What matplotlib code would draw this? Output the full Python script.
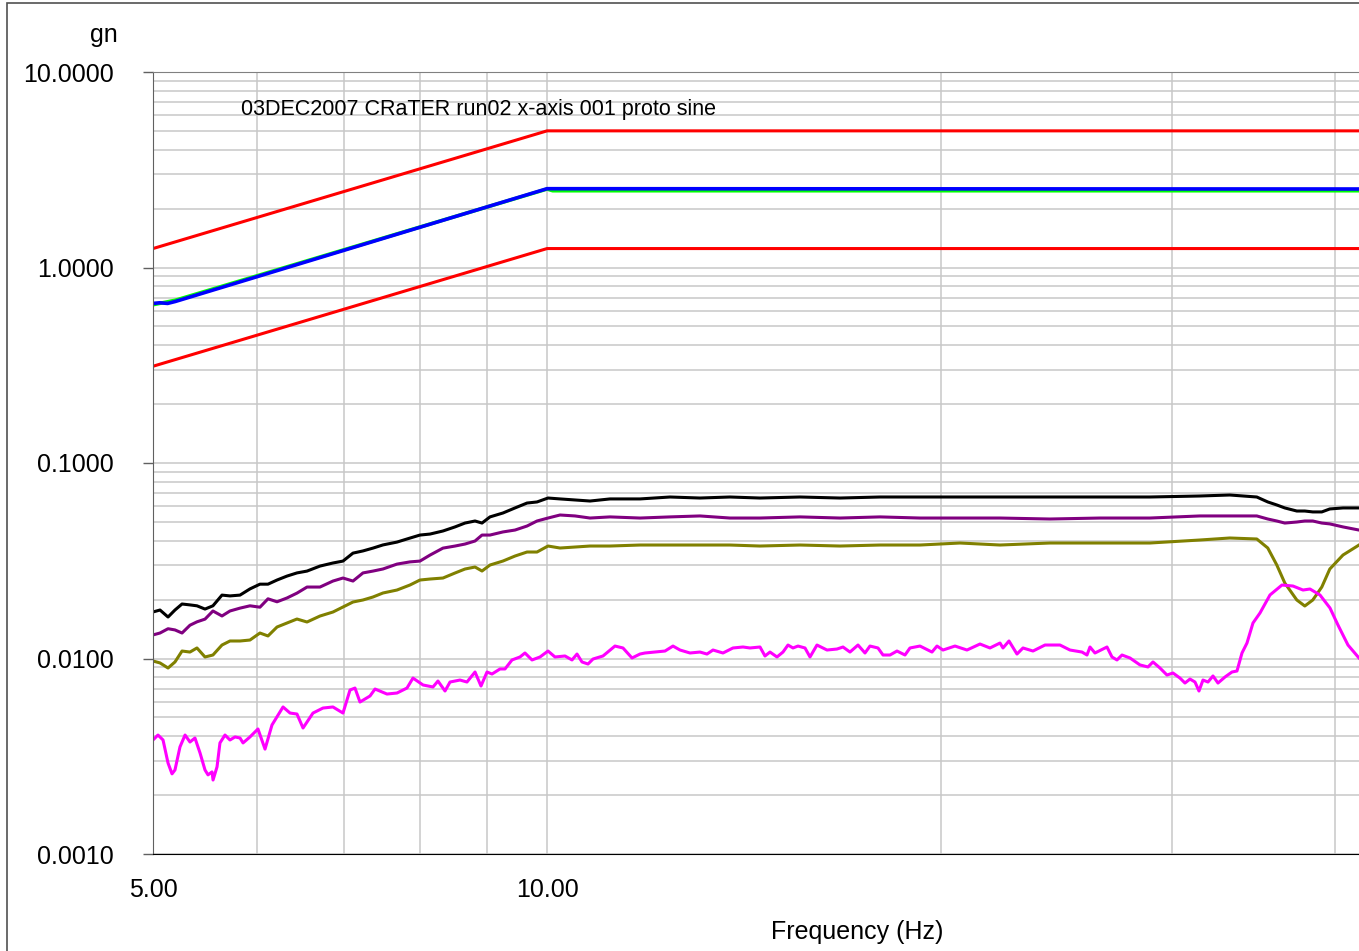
import matplotlib
matplotlib.use("Agg")
import matplotlib.pyplot as plt
from matplotlib.patches import Rectangle
from matplotlib.ticker import FixedLocator, NullFormatter

plt.rcParams['font.family'] = ['Liberation Sans', 'DejaVu Sans']

# --- data ---

# abort limits and reference profile
freq_ref = [5.0, 10.0, 50.0]
upper_abort = [1.25, 5.0, 5.0]
lower_abort = [0.3125, 1.25, 1.25]

# control (blue) and reference (green) traces
freq_ctrl = [5.0, 5.06, 5.13, 5.2, 10.0, 50.0]
control = [0.655, 0.66, 0.655, 0.67, 2.53, 2.52]
freq_green = [5.0, 5.2, 10.0, 10.1, 50.0]
green_ref = [0.645, 0.68, 2.52, 2.47, 2.47]

# response channels
freq_acc = [5.000, 5.062, 5.134, 5.197, 5.262, 5.336, 5.402, 5.479, 5.556, 5.645,
            5.725, 5.827, 5.930, 6.035, 6.121, 6.219, 6.329, 6.441, 6.556, 6.707,
            6.862, 6.984, 7.108, 7.234, 7.362, 7.493, 7.680, 7.857, 7.997, 8.139,
            8.327, 8.505, 8.656, 8.810, 8.919, 9.045, 9.254, 9.452, 9.654, 9.825,
            10.017, 10.231, 10.504, 10.785, 11.171, 11.777, 12.415, 13.086, 13.795, 14.542,
            15.605, 16.742, 17.963, 19.272, 20.676, 22.184, 24.219, 26.444, 28.874, 31.525,
            33.233, 34.850, 35.531, 36.099, 36.610, 37.391, 37.921, 38.458, 39.072, 39.626,
            40.557, 41.714]

black_g = [0.0173, 0.0177, 0.0163, 0.0177, 0.0190, 0.0188, 0.0186, 0.0179, 0.0186, 0.0211,
           0.0209, 0.0211, 0.0227, 0.0240, 0.0240, 0.0252, 0.0264, 0.0274, 0.0280, 0.0297,
           0.0308, 0.0315, 0.0346, 0.0355, 0.0367, 0.0381, 0.0394, 0.0413, 0.0428, 0.0433,
           0.0449, 0.0471, 0.0493, 0.0505, 0.0493, 0.0530, 0.0555, 0.0589, 0.0624, 0.0632,
           0.0662, 0.0655, 0.0647, 0.0639, 0.0655, 0.0655, 0.0670, 0.0662, 0.0670, 0.0662,
           0.0670, 0.0662, 0.0670, 0.0670, 0.0670, 0.0670, 0.0670, 0.0670, 0.0670, 0.0678,
           0.0686, 0.0670, 0.0632, 0.0610, 0.0589, 0.0568, 0.0568, 0.0562, 0.0562, 0.0582,
           0.0589, 0.0589]

purple_g = [0.0132, 0.0135, 0.0142, 0.0140, 0.0135, 0.0148, 0.0154, 0.0159, 0.0175, 0.0165,
            0.0175, 0.0181, 0.0186, 0.0183, 0.0202, 0.0195, 0.0204, 0.0216, 0.0232, 0.0232,
            0.0249, 0.0258, 0.0249, 0.0274, 0.0280, 0.0287, 0.0304, 0.0312, 0.0315, 0.0338,
            0.0367, 0.0376, 0.0385, 0.0399, 0.0428, 0.0428, 0.0444, 0.0454, 0.0476, 0.0505,
            0.0523, 0.0542, 0.0536, 0.0523, 0.0530, 0.0523, 0.0530, 0.0536, 0.0523, 0.0523,
            0.0530, 0.0523, 0.0530, 0.0523, 0.0523, 0.0523, 0.0517, 0.0523, 0.0523, 0.0536,
            0.0536, 0.0536, 0.0517, 0.0505, 0.0493, 0.0499, 0.0505, 0.0505, 0.0493, 0.0488,
            0.0471, 0.0454]

olive_g = [0.00971, 0.00949, 0.00894, 0.00960, 0.01092, 0.01079, 0.01132, 0.01018, 0.01042, 0.01172,
           0.01229, 0.01229, 0.01243, 0.01350, 0.01304, 0.01449, 0.01519, 0.01592, 0.01537, 0.01649,
           0.01729, 0.01834, 0.01945, 0.01992, 0.02063, 0.02163, 0.02240, 0.02376, 0.02520, 0.02550,
           0.02580, 0.02737, 0.02869, 0.02937, 0.02802, 0.03007, 0.03152, 0.03343, 0.03505, 0.03505,
           0.03761, 0.03674, 0.03717, 0.03761, 0.03761, 0.03806, 0.03806, 0.03806, 0.03806, 0.03761,
           0.03806, 0.03761, 0.03806, 0.03806, 0.03897, 0.03806, 0.03897, 0.03897, 0.03897, 0.04037,
           0.04134, 0.04086, 0.03674, 0.03007, 0.02433, 0.01992, 0.01856, 0.01992, 0.02321, 0.02869,
           0.03383, 0.03806]

freq_mag = [5.000, 5.044, 5.089, 5.134, 5.170, 5.197, 5.243, 5.290, 5.336, 5.383,
            5.431, 5.479, 5.508, 5.547, 5.557, 5.596, 5.625, 5.675, 5.725, 5.776,
            5.827, 5.858, 5.930, 6.014, 6.089, 6.164, 6.230, 6.285, 6.363, 6.441,
            6.510, 6.625, 6.743, 6.862, 6.984, 7.071, 7.133, 7.196, 7.324, 7.389,
            7.546, 7.680, 7.816, 7.899, 8.040, 8.182, 8.254, 8.357, 8.431, 8.580,
            8.686, 8.810, 8.903, 8.998, 9.077, 9.206, 9.287, 9.402, 9.535, 9.619,
            9.739, 9.877, 10.017, 10.141, 10.321, 10.449, 10.541, 10.634, 10.747, 10.842,
            11.034, 11.269, 11.429, 11.612, 11.776, 11.880, 12.091, 12.306, 12.480, 12.635,
            12.859, 13.087, 13.249, 13.390, 13.627, 13.869, 14.115, 14.290, 14.544, 14.672,
            14.802, 14.985, 15.144, 15.278, 15.413, 15.549, 15.742, 15.881, 16.077, 16.363,
            16.653, 16.830, 17.038, 17.280, 17.494, 17.648, 17.898, 18.057, 18.280, 18.507,
            18.769, 18.935, 19.271, 19.682, 19.856, 20.067, 20.495, 20.932, 21.416, 21.796,
            22.183, 22.300, 22.537, 22.856, 23.099, 23.509, 24.010, 24.652, 25.089, 25.625,
            25.851, 25.988, 26.217, 26.777, 27.013, 27.252, 27.493, 27.882, 28.377, 28.779,
            29.033, 29.393, 29.757, 30.073, 30.446, 30.714, 30.986, 31.260, 31.480, 31.703,
            31.983, 32.265, 32.550, 32.953, 33.362, 33.656, 33.954, 34.254, 34.617, 35.046,
            35.668, 36.429, 37.140, 37.800, 38.268, 38.947, 39.638, 40.200, 40.913, 41.713]

magenta_g = [0.00383, 0.00406, 0.00383, 0.00292, 0.00257, 0.00269, 0.00353, 0.00406, 0.00374, 0.00392,
             0.00329, 0.00269, 0.00254, 0.00263, 0.00239, 0.00279, 0.00370, 0.00406, 0.00383, 0.00397,
             0.00392, 0.00370, 0.00397, 0.00436, 0.00344, 0.00457, 0.00514, 0.00565, 0.00526, 0.00520,
             0.00441, 0.00526, 0.00558, 0.00565, 0.00526, 0.00690, 0.00706, 0.00599, 0.00643, 0.00698,
             0.00658, 0.00666, 0.00706, 0.00794, 0.00732, 0.00715, 0.00767, 0.00682, 0.00758, 0.00776,
             0.00758, 0.00853, 0.00723, 0.00853, 0.00833, 0.00884, 0.00884, 0.00983, 0.01018, 0.01067,
             0.00983, 0.01018, 0.01092, 0.01018, 0.01030, 0.00983, 0.01054, 0.00960, 0.00937, 0.00994,
             0.01030, 0.01158, 0.01132, 0.01006, 0.01054, 0.01067, 0.01079, 0.01092, 0.01158, 0.01105,
             0.01067, 0.01079, 0.01054, 0.01105, 0.01067, 0.01132, 0.01145, 0.01132, 0.01145, 0.01030,
             0.01079, 0.01018, 0.01079, 0.01172, 0.01132, 0.01158, 0.01132, 0.01018, 0.01172, 0.01105,
             0.01118, 0.01145, 0.01079, 0.01172, 0.01067, 0.01158, 0.01132, 0.01042, 0.01042, 0.01092,
             0.01042, 0.01132, 0.01158, 0.01079, 0.01158, 0.01105, 0.01158, 0.01105, 0.01186, 0.01132,
             0.01200, 0.01132, 0.01229, 0.01054, 0.01132, 0.01092, 0.01172, 0.01172, 0.01105, 0.01079,
             0.01042, 0.01145, 0.01067, 0.01145, 0.01018, 0.00983, 0.01042, 0.01006, 0.00927, 0.00905,
             0.00960, 0.00894, 0.00823, 0.00843, 0.00794, 0.00749, 0.00785, 0.00758, 0.00682, 0.00776,
             0.00758, 0.00814, 0.00749, 0.00804, 0.00853, 0.00863, 0.01067, 0.01200, 0.01519, 0.01709,
             0.02113, 0.02376, 0.02348, 0.02240, 0.02267, 0.02113, 0.01813, 0.01483, 0.01172, 0.01006]

y_ticks = [0.001, 0.01, 0.1, 1.0, 10.0]
y_labels = ['0.0010', '0.0100', '0.1000', '1.0000', '10.0000']
x_ticks = [5, 10]
x_labels = ['5.00', '10.00']
x_grid = [6, 7, 8, 9, 20, 30, 40]

title = '03DEC2007 CRaTER run02 x-axis 001 proto sine'

# --- figure ---
W, H = 1359, 951
fig = plt.figure(figsize=(W / 100, H / 100), dpi=100)

# the axis runs past the right edge of the picture (the original is cut off)
ax = fig.add_axes([153 / W, 97 / H, 1309 / W, 782 / H])
ax.set_xscale('log')
ax.set_yscale('log')
ax.set_xlim(5, 50)
ax.set_ylim(0.001, 10)

ax.set_xticks(x_ticks, labels=x_labels)
ax.xaxis.set_minor_locator(FixedLocator(x_grid))
ax.xaxis.set_minor_formatter(NullFormatter())
ax.set_yticks(y_ticks, labels=y_labels)
ax.yaxis.set_minor_formatter(NullFormatter())

ax.grid(True, which='both', color='#c8c8c8', lw=1.1)
ax.set_axisbelow(True)

ax.tick_params(axis='y', which='major', length=7.2, width=1, color='#606060',
               pad=21, labelsize=18)
ax.tick_params(axis='x', which='major', length=0, pad=17, labelsize=18)
ax.tick_params(which='minor', length=0)

ax.spines['top'].set_color('#808080')
ax.spines['left'].set_color('#606060')
ax.spines['bottom'].set_color('black')
ax.spines['right'].set_visible(False)

lw = 2.2
ax.plot(freq_ref, upper_abort, color='#ff0000', lw=lw)
ax.plot(freq_ref, lower_abort, color='#ff0000', lw=lw)
ax.plot(freq_green, green_ref, color='#00ff00', lw=2.6)
ax.plot(freq_ctrl, control, color='#0000ff', lw=2.6)

ax.plot(freq_acc, black_g, color='black', lw=lw)
ax.plot(freq_acc, purple_g, color='#800080', lw=lw)
ax.plot(freq_acc, olive_g, color='#808000', lw=lw)
ax.plot(freq_mag, magenta_g, color='#ff00ff', lw=lw)

# texts
fig.text(118 / W, 1 - 35 / H, 'gn', ha='right', va='center', fontsize=18)
fig.text(241 / W, 1 - 110 / H, title, ha='left', va='center', fontsize=15.5)
fig.text(857 / W, 1 - 932 / H, 'Frequency (Hz)', ha='center', va='center', fontsize=18)

# outer frame
fig.patches.append(Rectangle((7 / W, -0.1), 1.2, 1.1 - 3.5 / H,
                             transform=fig.transFigure, fill=False,
                             edgecolor='#505050', lw=1.2))

fig.savefig('out.png', dpi=100)
